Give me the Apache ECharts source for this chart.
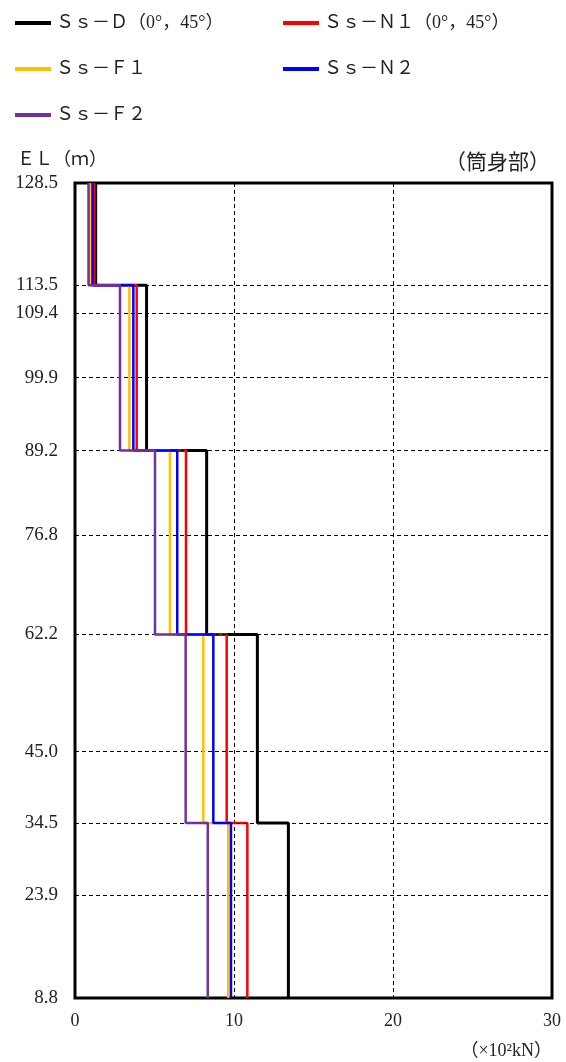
<!DOCTYPE html>
<html>
<head>
<meta charset="utf-8">
<script src="https://cdn.jsdelivr.net/npm/echarts@6/dist/echarts.min.js"></script>
<style>
  html, body { margin: 0; padding: 0; background: #fff; }
  #main { width: 566px; height: 1062px; }
</style>
</head>
<body>
<div id="main"></div>
<script>
// 標高（EL, m）：目盛りと区間境界
var elevTicks = [128.5, 113.5, 109.4, 99.9, 89.2, 76.8, 62.2, 45.0, 34.5, 23.9, 8.8];
var bounds = [128.5, 113.5, 89.2, 62.2, 34.5, 8.8];

// 各区間のせん断力（×10²kN）
var ssD  = [1.3, 4.5, 8.28, 11.47, 13.42];
var ssN1 = [1.2, 3.88, 6.98, 9.54, 10.84];
var ssF1 = [0.95, 3.42, 5.97, 8.07, 9.64];
var ssN2 = [1.1, 3.67, 6.43, 8.7, 9.81];
var ssF2 = [0.85, 2.83, 5.03, 6.96, 8.35];

var xTicks = [0, 10, 20, 30];

var names = ['Ｓｓ－Ｄ（0°，45°）', 'Ｓｓ－Ｎ１（0°，45°）', 'Ｓｓ－Ｆ１', 'Ｓｓ－Ｎ２', 'Ｓｓ－Ｆ２'];
var colors = ['#000000', '#ff0000', '#ffc000', '#0000ff', '#7030a0'];
var values = [ssD, ssN1, ssF1, ssN2, ssF2];

var font = "'Liberation Serif', 'Noto Sans CJK JP', serif";

// 階段状の折れ線データ
function steps(vals) {
  var pts = [];
  for (var i = 0; i < vals.length; i++) {
    pts.push([vals[i], bounds[i]]);
    pts.push([vals[i], bounds[i + 1]]);
  }
  return pts;
}

var series = [{
  type: 'line',
  data: [],
  silent: true,
  markLine: {
    silent: true,
    symbol: 'none',
    label: { show: false },
    lineStyle: { type: [4, 3], color: '#000', width: 1 },
    data: elevTicks.slice(1, -1).map(function (v) { return { yAxis: v }; })
  }
}];
values.forEach(function (v, i) {
  series.push({
    name: names[i],
    type: 'line',
    data: steps(v),
    showSymbol: false,
    symbol: 'none',
    color: colors[i],
    lineStyle: { color: colors[i], width: i === 0 ? 3 : 2.5 },
    z: 3 + i
  });
});

var legendCommon = {
  orient: 'vertical',
  top: 8,
  itemGap: 26,
  itemWidth: 36,
  itemHeight: 4,
  icon: 'rect',
  textStyle: { fontFamily: font, fontSize: 18, lineHeight: 20, color: '#222' }
};

var myChart = echarts.init(document.getElementById('main'));
myChart.setOption({
  animation: false,
  backgroundColor: '#fff',
  title: [
    { text: 'ＥＬ（ｍ）', left: 12, top: 146, textStyle: { fontFamily: font, fontSize: 18, fontWeight: 'normal', color: '#222' } },
    { text: '（筒身部）', right: 11, top: 148, textStyle: { fontFamily: font, fontSize: 21, fontWeight: 'normal', color: '#222' } },
    { text: '（×10²kN）', right: 9, top: 1037, textStyle: { fontFamily: font, fontSize: 18, fontWeight: 'normal', color: '#222' } }
  ],
  legend: [
    Object.assign({ left: 10, data: [names[0], names[2], names[4]] }, legendCommon),
    Object.assign({ left: 278, data: [names[1], names[3]] }, legendCommon)
  ],
  grid: {
    left: 75,
    right: 14,
    top: 183,
    bottom: 64,
    show: true,
    borderColor: '#000',
    borderWidth: 3
  },
  xAxis: {
    type: 'value',
    min: xTicks[0],
    max: xTicks[xTicks.length - 1],
    interval: 10,
    axisLine: { show: false },
    axisTick: { show: false },
    axisLabel: { margin: 14, fontFamily: font, fontSize: 18, color: '#222' },
    splitLine: { show: true, lineStyle: { type: [4, 3], color: '#000', width: 1 } }
  },
  yAxis: {
    type: 'value',
    min: 8.8,
    max: 128.5,
    axisLine: { show: false },
    axisTick: { show: false },
    splitLine: { show: false },
    axisLabel: {
      customValues: elevTicks,
      margin: 17,
      fontFamily: font,
      fontSize: 19,
      color: '#222',
      formatter: function (v) { return v.toFixed(1); }
    }
  },
  series: series
});
</script>
</body>
</html>
